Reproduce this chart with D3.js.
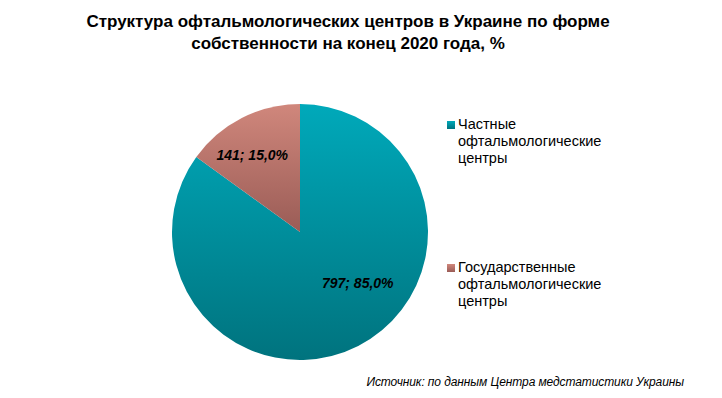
<!DOCTYPE html>
<html>
<head>
<meta charset="utf-8">
<script src="https://cdn.jsdelivr.net/npm/d3@7"></script>
<style>
  body { margin: 0; background: #fff; }
  text { font-family: "Liberation Sans", Arial, sans-serif; }
</style>
</head>
<body>
<svg id="vis" width="722" height="398"></svg>
<script>
// data
const categories = ["Частные офтальмологические центры", "Государственные офтальмологические центры"];
const counts = [797, 141];
const shares = [85.0, 15.0];
const legendLines = [
  ["Частные", "офтальмологические", "центры"],
  ["Государственные", "офтальмологические", "центры"]
];
const colorsTop = ["#00a9ba", "#d0877c"];
const colorsBottom = ["#00737e", "#9a5c56"];

const svg = d3.select("#vis");
const cx = 300, cy = 232, r = 128;
// nudges so labels sit where the original's best-fit put them
const labelNudge = [[17, -29], [-7, 3]];

// gradients, one per slice
const defs = svg.append("defs");
categories.forEach((c, i) => {
  const g = defs.append("linearGradient")
    .attr("id", "grad" + i)
    .attr("x1", 0).attr("y1", 0).attr("x2", 0).attr("y2", 1);
  g.append("stop").attr("offset", "0%").attr("stop-color", colorsTop[i]);
  g.append("stop").attr("offset", "100%").attr("stop-color", colorsBottom[i]);
});

// title
const title = svg.append("text")
  .attr("x", 348).attr("y", 27)
  .attr("text-anchor", "middle")
  .attr("font-size", "17px")
  .attr("font-weight", "bold");
title.append("tspan").attr("x", 348).text("Структура офтальмологических центров в Украине по форме");
title.append("tspan").attr("x", 348).attr("dy", 22).text("собственности на конец 2020 года, %");

// pie
const pie = d3.pie().sort(null).value(d => d)(counts);
const arc = d3.arc().innerRadius(0).outerRadius(r);
const g = svg.append("g").attr("transform", `translate(${cx},${cy})`);

g.selectAll("path")
  .data(pie)
  .join("path")
  .attr("d", arc)
  .attr("fill", (d, i) => `url(#grad${i})`);

// labels
const labelArc = d3.arc().innerRadius(r * 0.7).outerRadius(r * 0.7);
g.selectAll("text.lbl")
  .data(pie)
  .join("text")
  .attr("class", "lbl")
  .attr("transform", (d, i) => {
    const [x, y] = labelArc.centroid(d);
    return `translate(${x + labelNudge[i][0]},${y + labelNudge[i][1]})`;
  })
  .attr("text-anchor", "middle")
  .attr("dy", "0.35em")
  .attr("font-size", "14px")
  .attr("font-weight", "bold")
  .attr("font-style", "italic")
  .attr("fill", "#000")
  .text((d, i) => `${counts[i]}; ${d3.format(".1f")(shares[i]).replace(".", ",")}%`);

// legend
const legendY = [121, 264];
const legend = svg.append("g");
categories.forEach((c, i) => {
  legend.append("rect")
    .attr("x", 447).attr("y", legendY[i])
    .attr("width", 8).attr("height", 8)
    .attr("fill", `url(#grad${i})`);
  const t = legend.append("text")
    .attr("x", 458).attr("y", legendY[i] + 8)
    .attr("font-size", "14.5px")
    .attr("fill", "#000");
  legendLines[i].forEach((line, j) => {
    t.append("tspan").attr("x", 458).attr("dy", j === 0 ? 0 : 17).text(line);
  });
});

// source
svg.append("text")
  .attr("x", 684).attr("y", 386)
  .attr("text-anchor", "end")
  .attr("font-size", "12px")
  .attr("font-style", "italic")
  .attr("letter-spacing", "-0.1px")
  .text("Источник: по данным Центра медстатистики Украины");
</script>
</body>
</html>
